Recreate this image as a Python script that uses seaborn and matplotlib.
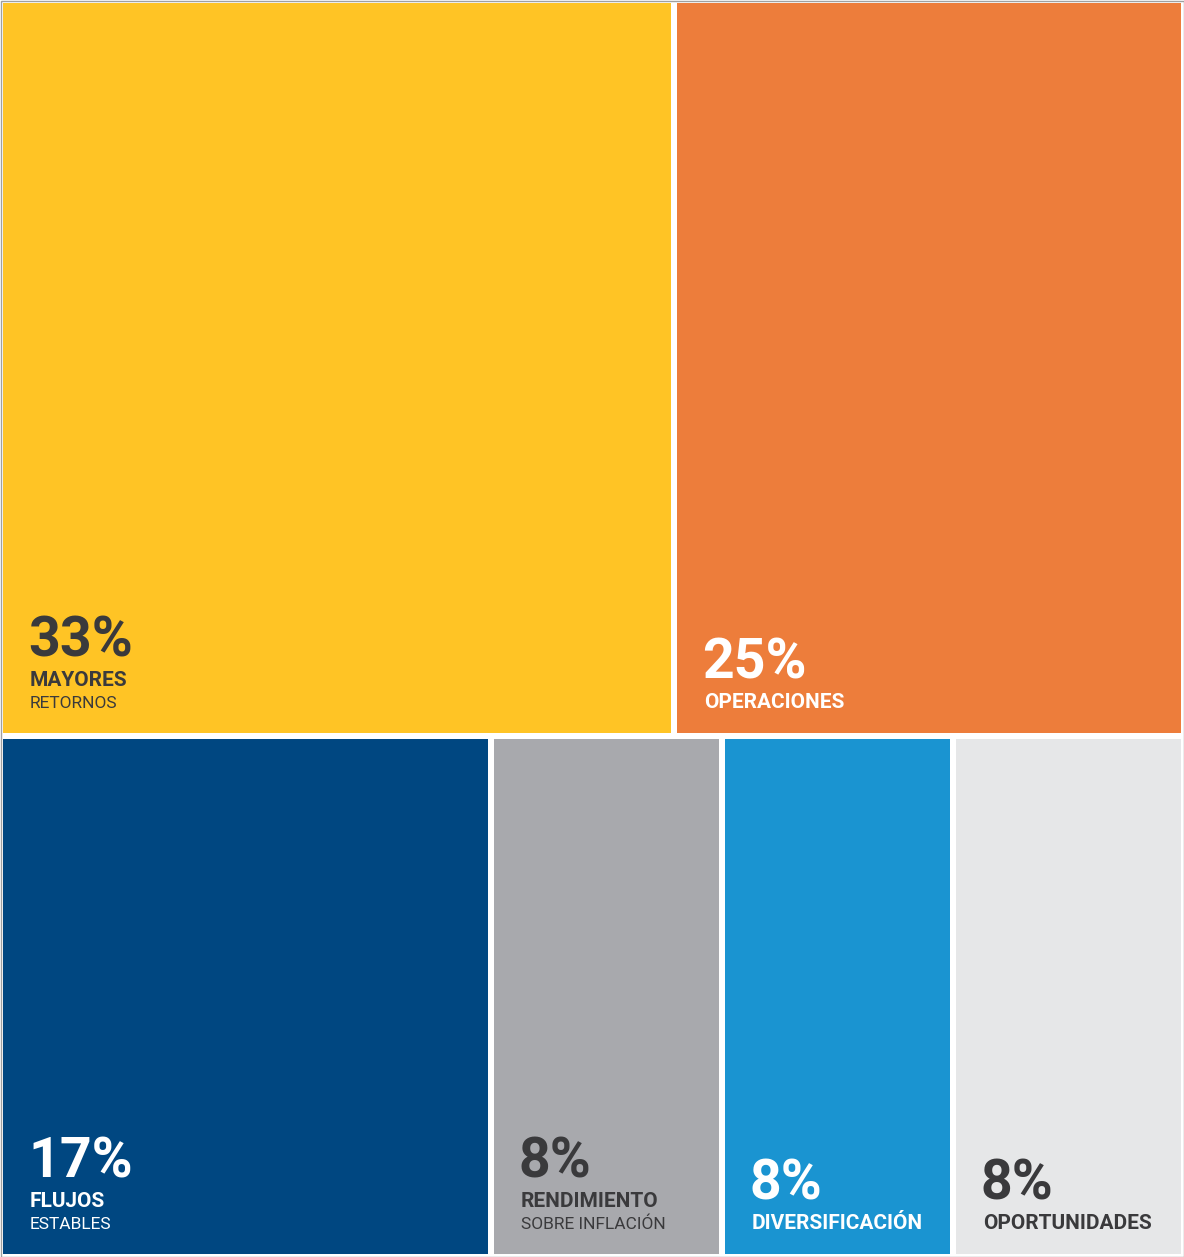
import matplotlib
matplotlib.use("Agg")
import matplotlib.pyplot as plt
from matplotlib.patches import Rectangle
import seaborn as sns

sns.set_theme(style="white")

labels = ["MAYORES", "OPERACIONES", "FLUJOS", "RENDIMIENTO", "DIVERSIFICACIÓN", "OPORTUNIDADES"]
sublabels = ["RETORNOS", "", "ESTABLES", "SOBRE INFLACIÓN", "", ""]
values = [33, 25, 17, 8, 8, 8]
rows = [[0, 1], [2, 3, 4, 5]]
colors = ["#FFC425", "#ED7D3B", "#004781", "#A8A9AD", "#1A94D1", "#E6E7E8"]
txtcol = ["#3A3A3C", "#FFFFFF", "#FFFFFF", "#3A3A3C", "#FFFFFF", "#3A3A3C"]

W, H = 1184, 1257
fig = plt.figure(figsize=(W/100, H/100), dpi=100)
ax = fig.add_axes([0, 0, 1, 1])
ax.set_xlim(0, W); ax.set_ylim(H, 0); ax.axis("off")

total = sum(values)
gap = 3
y0 = 0
for row in rows:
    rs = sum(values[i] for i in row)
    h = H * rs / total
    x0 = 0
    for i in row:
        w = W * values[i] / rs
        ax.add_patch(Rectangle((x0+gap, y0+gap), w-2*gap, h-2*gap, color=colors[i], lw=0))
        bx, by = x0 + 30, y0 + h - 28
        c = txtcol[i]
        if sublabels[i]:
            ax.text(bx, by, sublabels[i], color=c, fontsize=12.5, family="Roboto", va="baseline")
            ax.text(bx, by-22, labels[i], color=c, fontsize=15, family="Roboto", weight="bold", va="baseline")
            ax.text(bx-2, by-52, f"{values[i]}%", color=c, fontsize=40, family="Roboto", weight="bold", va="baseline")
        else:
            ax.text(bx, by, labels[i], color=c, fontsize=15, family="Roboto", weight="bold", va="baseline")
            ax.text(bx-2, by-30, f"{values[i]}%", color=c, fontsize=40, family="Roboto", weight="bold", va="baseline")
        x0 += w
    y0 += h

ax.add_patch(Rectangle((0.5, 0.5), W-1, H-1, fill=False, ec="#A0A0A0", lw=1))
fig.savefig("out.png", dpi=100, facecolor="white")
